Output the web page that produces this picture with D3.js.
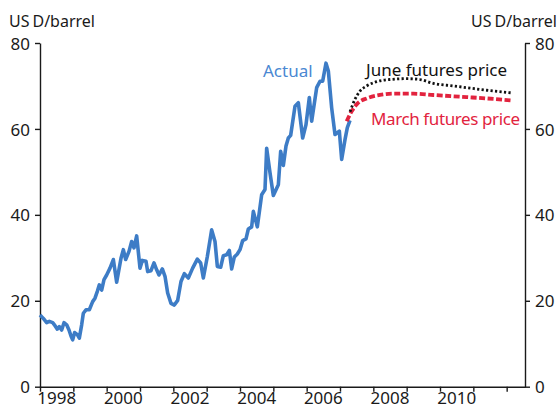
<!DOCTYPE html>
<html>
<head>
<meta charset="utf-8">
<script src="https://cdn.jsdelivr.net/npm/d3@7"></script>
<style>
  html, body { margin: 0; padding: 0; background: #fff; }
  svg { display: block; font-family: "Noto Sans", "Open Sans", sans-serif; }
  .axis path, .axis line { stroke: #1a1a1a; stroke-width: 1.4px; }
  .axis text { font-size: 17px; fill: #1a1a1a; font-family: "Noto Sans", sans-serif; }
</style>
</head>
<body>
<svg id="chart" width="559" height="410"></svg>
<script>
// ---- data (decimal year, USD/barrel) ----
const actualYears = [
  1998.00,1998.10,1998.20,1998.28,1998.38,1998.45,1998.52,1998.58,1998.65,1998.72,
  1998.80,1998.87,1998.93,1998.98,1999.04,1999.12,1999.18,1999.25,1999.30,1999.38,
  1999.48,1999.58,1999.65,1999.72,1999.78,1999.85,1999.92,2000.00,2000.10,2000.20,
  2000.30,2000.43,2000.50,2000.57,2000.67,2000.75,2000.82,2000.90,2001.00,2001.07,
  2001.18,2001.23,2001.33,2001.42,2001.50,2001.57,2001.67,2001.75,2001.83,2001.93,
  2002.03,2002.13,2002.23,2002.33,2002.45,2002.58,2002.72,2002.82,2002.90,2003.02,
  2003.15,2003.25,2003.32,2003.42,2003.50,2003.60,2003.68,2003.75,2003.83,2003.92,
  2004.00,2004.08,2004.18,2004.25,2004.35,2004.40,2004.52,2004.65,2004.75,2004.80,
  2004.90,2005.00,2005.15,2005.22,2005.30,2005.38,2005.45,2005.52,2005.65,2005.75,
  2005.88,2005.98,2006.08,2006.15,2006.30,2006.40,2006.48,2006.58,2006.65,2006.75,
  2006.85,2006.98,2007.05,2007.15,2007.22,2007.30
];
const actualValues = [
  16.7,15.9,14.9,15.2,14.9,14.2,13.4,14.0,13.2,14.9,
  14.4,13.2,11.8,10.9,12.6,12.1,11.3,14.4,17.1,17.9,
  17.9,19.8,20.6,22.2,23.7,22.5,24.9,26.0,27.6,29.6,
  24.3,29.9,31.9,29.6,31.5,33.8,32.3,35.1,27.6,29.4,
  29.2,26.8,27.0,28.8,27.2,26.0,27.4,25.7,21.8,19.4,
  19.0,20.1,24.5,26.3,25.3,27.6,29.7,28.8,25.3,30.3,
  36.5,33.8,28.0,27.8,30.5,30.7,31.7,27.4,30.2,30.9,
  31.9,34.0,34.4,36.7,37.2,40.8,37.2,44.7,45.9,55.5,
  49.8,44.5,47.0,54.8,51.5,56.0,57.9,58.5,65.3,66.1,
  57.9,61.0,67.3,61.8,69.6,71.1,71.1,75.3,73.5,64.9,
  58.7,59.5,52.9,57.5,60.3,62.0
];
const marchYears  = [2007.20,2007.35,2007.55,2007.80,2008.20,2008.60,2009.20,2009.80,2010.40,2010.80,2011.40,2012.17];
const marchValues = [61.8,64.1,66.1,67.1,67.9,68.2,68.2,67.9,67.6,67.4,67.1,66.6];
const juneYears   = [2007.30,2007.45,2007.60,2007.80,2008.10,2008.50,2009.00,2009.40,2009.80,2010.40,2010.80,2011.40,2012.15];
const juneValues  = [64.0,66.9,68.8,70.0,71.0,71.5,71.7,71.5,70.6,70.0,69.6,69.0,68.4];

const yTicks = [0, 20, 40, 60, 80];
const yearTicks = d3.range(1998, 2013);
const yearLabels = [1998, 2000, 2002, 2004, 2006, 2008, 2010];
const unitLabel = ["US", "D/barrel"];

// ---- layout ----
const svg = d3.select("#chart");
const x = d3.scaleLinear().domain([1998, 2012.55]).range([40, 525]);
const y = d3.scaleLinear().domain([0, 80]).range([386.7, 43]);

// axes
const gl = svg.append("g").attr("class", "axis").attr("transform", "translate(40,0)")
  .call(d3.axisLeft(y).tickValues(yTicks).tickSize(5).tickSizeOuter(0).tickPadding(5));
const gr = svg.append("g").attr("class", "axis").attr("transform", "translate(525,0)")
  .call(d3.axisRight(y).tickValues(yTicks).tickSize(5).tickSizeOuter(0).tickPadding(5));
const gb = svg.append("g").attr("class", "axis").attr("transform", "translate(0,386.7)")
  .call(d3.axisBottom(x).tickValues(yearTicks).tickFormat("").tickSize(5).tickSizeOuter(0));
[gl, gr].forEach(g => g.selectAll(".tick text").attr("dy", "0.36em"));

svg.append("g").selectAll("text").data(yearLabels).join("text")
  .attr("x", d => x(d + 0.5)).attr("y", 404)
  .attr("text-anchor", "middle")
  .style("font-size", "17px").style("fill", "#1a1a1a")
  .text(d => d);

// unit labels
function unit(xp, anchor) {
  const t = svg.append("text").attr("x", xp).attr("y", 26.5)
    .attr("text-anchor", anchor).style("font-size", "16px").style("fill", "#1a1a1a");
  t.append("tspan").text(unitLabel[0]);
  t.append("tspan").attr("dx", 3).text(unitLabel[1]);
}
unit(9, "start");
unit(557, "end");

// lines
const line = d3.line().x(d => x(d[0])).y(d => y(d[1]));
const actual = d3.zip(actualYears, actualValues);
const march = d3.zip(marchYears, marchValues);
const june = d3.zip(juneYears, juneValues);

svg.append("path").datum(actual).attr("d", line.curve(d3.curveLinear))
  .attr("fill", "none").attr("stroke", "#3d7cc6").attr("stroke-width", 3.6)
  .attr("stroke-linejoin", "round");

const smooth = d3.line().x(d => x(d[0])).y(d => y(d[1])).curve(d3.curveMonotoneX);
svg.append("path").datum(march).attr("d", smooth)
  .attr("fill", "none").attr("stroke", "#e2233e").attr("stroke-width", 3.8)
  .attr("stroke-dasharray", "6,2.5");
svg.append("path").datum(june).attr("d", smooth)
  .attr("fill", "none").attr("stroke", "#111").attr("stroke-width", 2.8)
  .attr("stroke-dasharray", "2.2,2.3");

// series labels
svg.append("text").attr("x", 263).attr("y", 77).style("font-size", "17px")
  .style("fill", "#4a88d2").text("Actual");
svg.append("text").attr("x", 366).attr("y", 76).style("font-size", "17px")
  .style("fill", "#111").text("June futures price");
svg.append("text").attr("x", 371).attr("y", 125).style("font-size", "17px")
  .style("fill", "#e2233e").attr("textLength", 149).attr("lengthAdjust", "spacing")
  .text("March futures price");
</script>
</body>
</html>
